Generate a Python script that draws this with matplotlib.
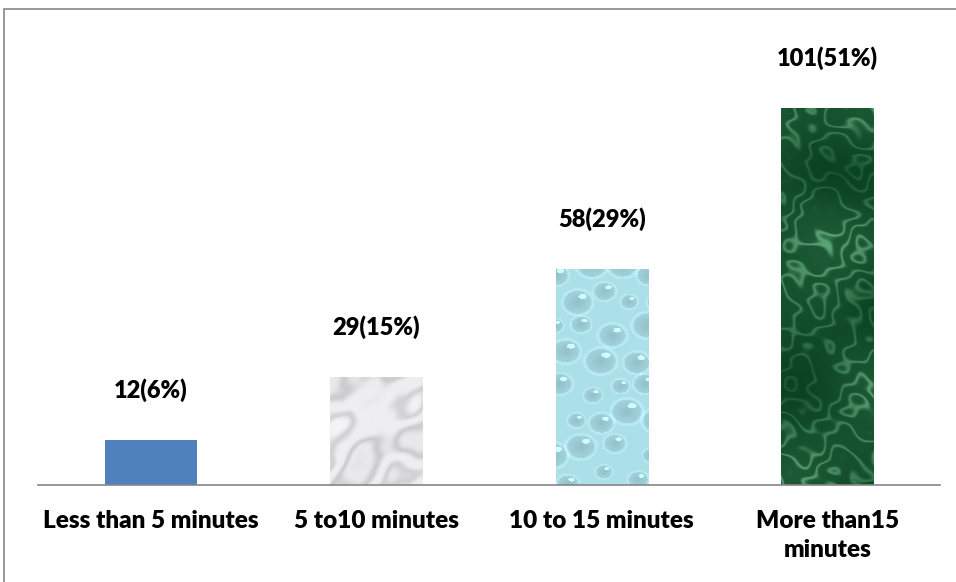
import numpy as np
import matplotlib
matplotlib.use("Agg")
import matplotlib.pyplot as plt
from matplotlib.patches import Rectangle

categories = ["Less than 5 minutes", "5 to10 minutes", "10 to 15 minutes", "More than15\nminutes"]
counts = [12, 29, 58, 101]
percents = [6, 15, 29, 51]

plt.rcParams['font.family'] = ['Lato', 'DejaVu Sans']


def smooth_field(h, w, terms):
    y, x = np.mgrid[0:h, 0:w].astype(float)
    f = np.zeros((h, w))
    for amp, fx, fy, ph in terms:
        f += amp * np.sin(x * fx + y * fy + ph + 0.8 * np.sin(y * fx * 0.7 - x * fy * 0.5))
    f = (f - f.min()) / (f.max() - f.min())
    return f


def blend(f, c0, c1):
    c0 = np.array(c0) / 255.0
    c1 = np.array(c1) / 255.0
    return c0[None, None, :] * (1 - f[..., None]) + c1[None, None, :] * f[..., None]


def gray_marble(h, w):
    f = smooth_field(h, w, [(1.0, 0.05, 0.06, 0.3), (0.5, 0.09, 0.05, 1.7),
                            (0.3, 0.07, -0.1, 2.4), (0.15, 0.21, 0.17, 0.9)])
    streak = np.abs(np.sin(f * 7.0)) ** 5
    return blend(0.3 * streak + 0.12 * f, (244, 244, 246), (140, 140, 145))


def green_marble(h, w):
    f = smooth_field(h, w, [(1.0, 0.03, 0.05, 0.5), (0.7, 0.07, -0.03, 2.1),
                            (0.4, 0.13, 0.09, 1.2), (0.25, 0.19, -0.23, 0.4)])
    g = smooth_field(h, w, [(1.0, 0.02, 0.035, 1.4), (0.6, -0.045, 0.02, 0.2)])
    veins = np.abs(np.sin(f * 12.0)) ** 12
    v = np.clip(0.2 * g + 0.45 * veins * (0.4 + g), 0, 1)
    return blend(v, (10, 66, 34), (110, 185, 135))


def droplets(h, w):
    base = np.array([172, 224, 233]) / 255.0
    img = np.ones((h, w, 3)) * base
    y, x = np.mgrid[0:h, 0:w].astype(float)
    # drops on a staggered grid with sizes and offsets varying by position
    step = 30
    rows = int(h / step) + 2
    for r in range(rows):
        for c in range(5):
            cx = c * step + (step / 2 if r % 2 else 0) + 6 * np.sin(r * 1.7 + c)
            cy = r * step + 7 * np.cos(r + c * 2.1)
            rad = 8 + 7 * (0.5 + 0.5 * np.sin(r * 2.3 + c * 1.1))
            d = np.sqrt(((x - cx) / 1.2) ** 2 + (y - cy) ** 2) / rad
            inside = d < 1
            shade = np.clip(d, 0, 1)
            img[inside] = img[inside] * (0.86 + 0.1 * shade[inside][:, None])
            ring = (d > 0.8) & (d < 1.0)
            img[ring] = np.minimum(img[ring] + 0.08, 1)
            hl = np.sqrt(((x - cx - rad * 0.35) / 1.6) ** 2 + (y - cy + rad * 0.4) ** 2) < rad * 0.18
            img[hl] = np.minimum(img[hl] + 0.2, 1)
    return np.clip(img, 0, 1)


textures = [
    None,
    gray_marble(110, 92),
    droplets(217, 92),
    green_marble(377, 92),
]

fig = plt.figure(figsize=(9.56, 5.82), dpi=100)
ax = fig.add_axes([38 / 956, (582 - 485) / 582, 902 / 956, 465 / 582])

x = np.arange(len(categories))
bars = ax.bar(x, counts, width=0.41, color="#4F81BD", zorder=2)

for bar, tex in zip(bars, textures):
    if tex is None:
        continue
    bar.set_facecolor("none")
    x0, w, hgt = bar.get_x(), bar.get_width(), bar.get_height()
    im = ax.imshow(tex, extent=[x0, x0 + w, 0, hgt], aspect="auto",
                   interpolation="bilinear", zorder=2)
    im.set_clip_path(bar)

ax.set_xlim(-0.5, len(categories) - 0.5)
ax.set_ylim(0, 465 / 3.73)

for xi, c, p in zip(x, counts, percents):
    ax.annotate(f"{c}({p}%)", (xi, c), xytext=(0, 50), textcoords="offset pixels",
                ha="center", va="center", fontsize=17, fontweight="heavy")

for s in ["top", "right", "left"]:
    ax.spines[s].set_visible(False)
ax.spines["bottom"].set_color("#868686")
ax.spines["bottom"].set_linewidth(1.2)
ax.set_yticks([])
ax.set_xticks(x)
ax.set_xticklabels(categories, fontsize=17.5, fontweight="heavy", va="top",
                   linespacing=1.4)
ax.tick_params(axis="x", length=0, pad=18)

# outer chart border
fig.patches.append(Rectangle((4 / 956, -0.1), 1.2, 1.1 - 9 / 582,
                             transform=fig.transFigure, fill=False,
                             edgecolor="#868686", linewidth=1.2))

fig.savefig("out.png", dpi=100)
